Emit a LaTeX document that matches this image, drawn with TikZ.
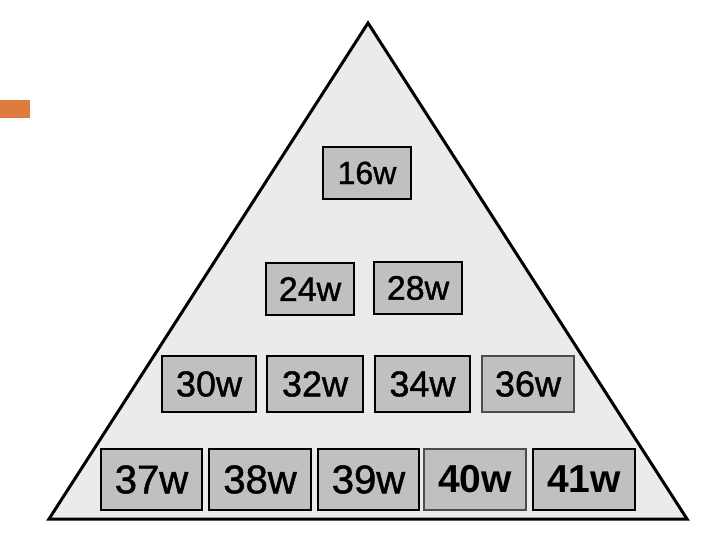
\documentclass[tikz,border=0pt]{standalone}
\usepackage{fontspec}
\setmainfont{Liberation Sans}
\newfontfamily\heavyfont[FakeBold=1.2]{Liberation Sans}
\definecolor{orangebar}{HTML}{E07B40}
\definecolor{trifill}{HTML}{EBEBEB}
\definecolor{boxfill}{HTML}{C0C0C0}
\tikzset{
  wbox/.style={draw=black, line width=1.3pt, fill=boxfill, inner sep=0pt, text=black},
  rowa/.style={wbox, minimum width=88pt, minimum height=52pt, font=\heavyfont\fontsize{32}{32}\selectfont},
  rowb/.style={wbox, minimum width=88pt, minimum height=52pt, font=\heavyfont\fontsize{34}{34}\selectfont},
  rowc/.style={wbox, minimum width=94pt, minimum height=56pt, font=\heavyfont\fontsize{36}{36}\selectfont},
  rowd/.style={wbox, minimum width=101pt, minimum height=61pt, font=\heavyfont\fontsize{40}{40}\selectfont},
}
\begin{document}
\begin{tikzpicture}[x=1pt,y=-1pt]
\useasboundingbox (0,0) rectangle (720,540);
% orange bar
\fill[orangebar] (0,100) rectangle (30,118);
% pyramid
\coordinate (apex) at (368,23);
\coordinate (bl) at (49,519);
\coordinate (br) at (687,519);
\draw[line width=3pt, fill=trifill, line join=miter] (apex) -- (br) -- (bl) -- cycle;
% row 1
\node[rowa] (w16) at (367,173) {16w};
% row 2
\node[rowb] (w24) at (310,289) {24w};
\node[rowb] (w28) at (418,288) {28w};
% row 3
\node[rowc] (w30) at (209,384) {30w};
\node[rowc, minimum width=96pt] (w32) at (315,384) {32w};
\node[rowc, minimum width=95pt] (w34) at (422.5,384) {34w};
\node[rowc, minimum width=92pt, draw=black!70] (w36) at (528,384) {36w};
% row 4
\node[rowd] (w37) at (151.5,479.5) {37w};
\node[rowd, minimum width=102pt] (w38) at (260,479.5) {38w};
\node[rowd] (w39) at (368.5,479.5) {39w};
\node[rowd, minimum width=102pt, draw=black!70, font=\fontsize{39}{39}\selectfont\bfseries] (w40) at (475,479.5) {40w};
\node[rowd, minimum width=102pt, font=\fontsize{39}{39}\selectfont\bfseries] (w41) at (584,479.5) {41w};
\end{tikzpicture}
\end{document}
